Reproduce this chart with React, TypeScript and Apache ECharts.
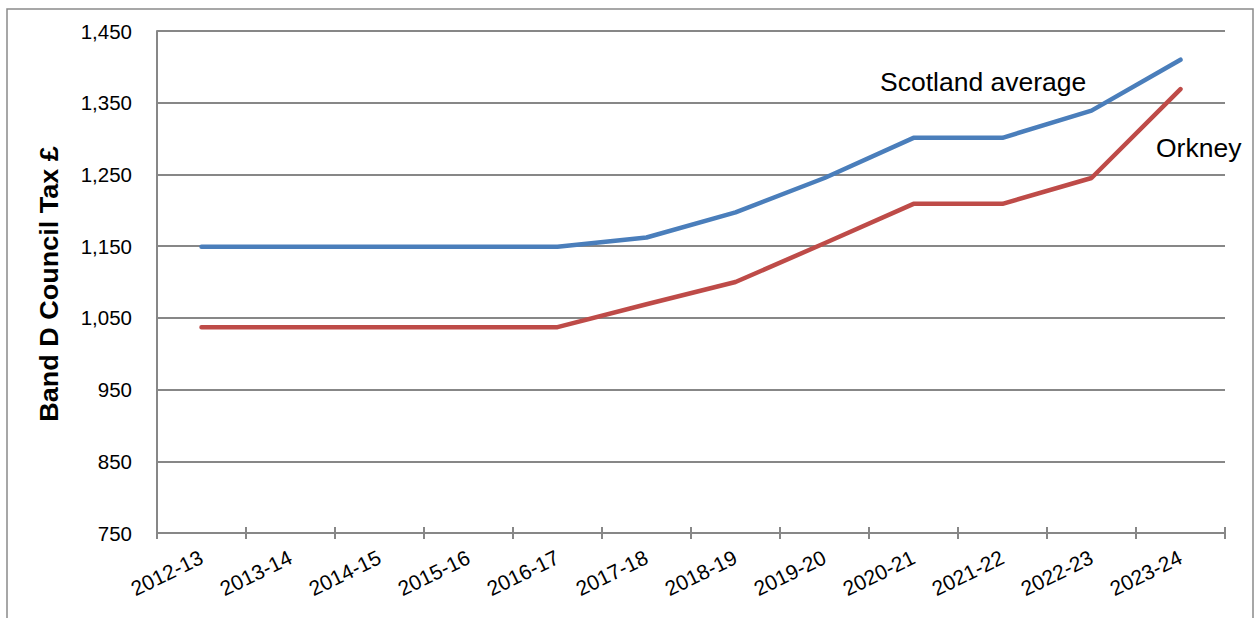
import React, { useEffect, useRef } from "react";
import * as echarts from "echarts";

const years = [
  "2012-13", "2013-14", "2014-15", "2015-16", "2016-17", "2017-18",
  "2018-19", "2019-20", "2020-21", "2021-22", "2022-23", "2023-24",
];
const scotlandAverage = [1149, 1149, 1149, 1149, 1149, 1162, 1197, 1245, 1301, 1301, 1339, 1410];
const orkney = [1037, 1037, 1037, 1037, 1037, 1069, 1100, 1154, 1209, 1209, 1245, 1369];
const yMin = 750;
const yMax = 1450;
const yStep = 100;

const GRID = "#878787";

export default function App() {
  const ref = useRef<HTMLDivElement>(null);
  useEffect(() => {
    if (!ref.current) return;
    const chart = echarts.init(ref.current, null, { renderer: "svg" });
    const fmt = (v: number) => (v + yMin).toLocaleString("en-US");
    chart.setOption({
      animation: false,
      backgroundColor: "#ffffff",
      grid: { left: 157, right: 30, top: 31, bottom: 85, containLabel: false },
      xAxis: [
        {
          type: "category",
          data: years,
          boundaryGap: true,
          axisLine: { show: true, lineStyle: { color: GRID, width: 2 } },
          axisTick: { show: true, length: 6, inside: false, lineStyle: { color: GRID, width: 2 } },
          axisLabel: {
            interval: 0,
            rotate: 26,
            margin: 23,
            fontSize: 21,
            color: "#000",
            fontFamily: "Liberation Sans, Arial, sans-serif",
          },
          splitLine: { show: false },
        },
        {
          type: "category",
          data: years,
          position: "bottom",
          boundaryGap: true,
          axisLine: { show: false },
          axisTick: { show: true, length: 6, inside: true, lineStyle: { color: GRID, width: 2 } },
          axisLabel: { show: false },
          splitLine: { show: false },
        },
      ],
      yAxis: {
        type: "value",
        min: 0,
        max: yMax - yMin,
        interval: yStep,
        axisLine: { show: true, lineStyle: { color: GRID, width: 2 } },
        axisTick: { show: false },
        axisLabel: {
          formatter: fmt,
          fontSize: 20.5,
          margin: 25,
          color: "#000",
          fontFamily: "Liberation Sans, Arial, sans-serif",
        },
        splitLine: { show: true, lineStyle: { color: GRID, width: 2 } },
      },
      series: [
        {
          name: "Scotland average",
          type: "line",
          data: scotlandAverage.map((v) => v - yMin),
          showSymbol: false,
          symbol: "none",
          lineStyle: { color: "#4A7EBB", width: 4.5, cap: "round", join: "round" },
          itemStyle: { color: "#4A7EBB" },
          z: 3,
        },
        {
          name: "Orkney",
          type: "line",
          data: orkney.map((v) => v - yMin),
          showSymbol: false,
          symbol: "none",
          lineStyle: { color: "#BE4B48", width: 4.5, cap: "round", join: "round" },
          itemStyle: { color: "#BE4B48" },
          z: 3,
        },
      ],
      graphic: [
        {
          type: "rect",
          shape: { x: 7, y: 9, width: 1246, height: 620 },
          style: { fill: "none", stroke: "#8a8a8a", lineWidth: 1.5 },
          silent: true,
          z: -1,
        },
        {
          type: "text",
          x: 49,
          y: 284,
          rotation: Math.PI / 2,
          scaleX: 1.08,
          style: {
            text: "Band D Council Tax £",
            fontSize: 25,
            fontWeight: "bold",
            fontFamily: "Liberation Sans, Arial, sans-serif",
            fill: "#000",
            align: "center",
            verticalAlign: "middle",
          },
        },
        {
          type: "text",
          x: 880,
          y: 82,
          style: {
            text: "Scotland average",
            fontSize: 26.5,
            fontFamily: "Liberation Sans, Arial, sans-serif",
            fill: "#000",
            align: "left",
            verticalAlign: "middle",
          },
        },
        {
          type: "text",
          x: 1156,
          y: 148,
          style: {
            text: "Orkney",
            fontSize: 26.5,
            fontFamily: "Liberation Sans, Arial, sans-serif",
            fill: "#000",
            align: "left",
            verticalAlign: "middle",
          },
        },
      ],
    });
    return () => chart.dispose();
  }, []);
  return (
    <div
      ref={ref}
      style={{ position: "absolute", left: 0, top: 0, width: "1255px", height: "618px" }}
    />
  );
}
